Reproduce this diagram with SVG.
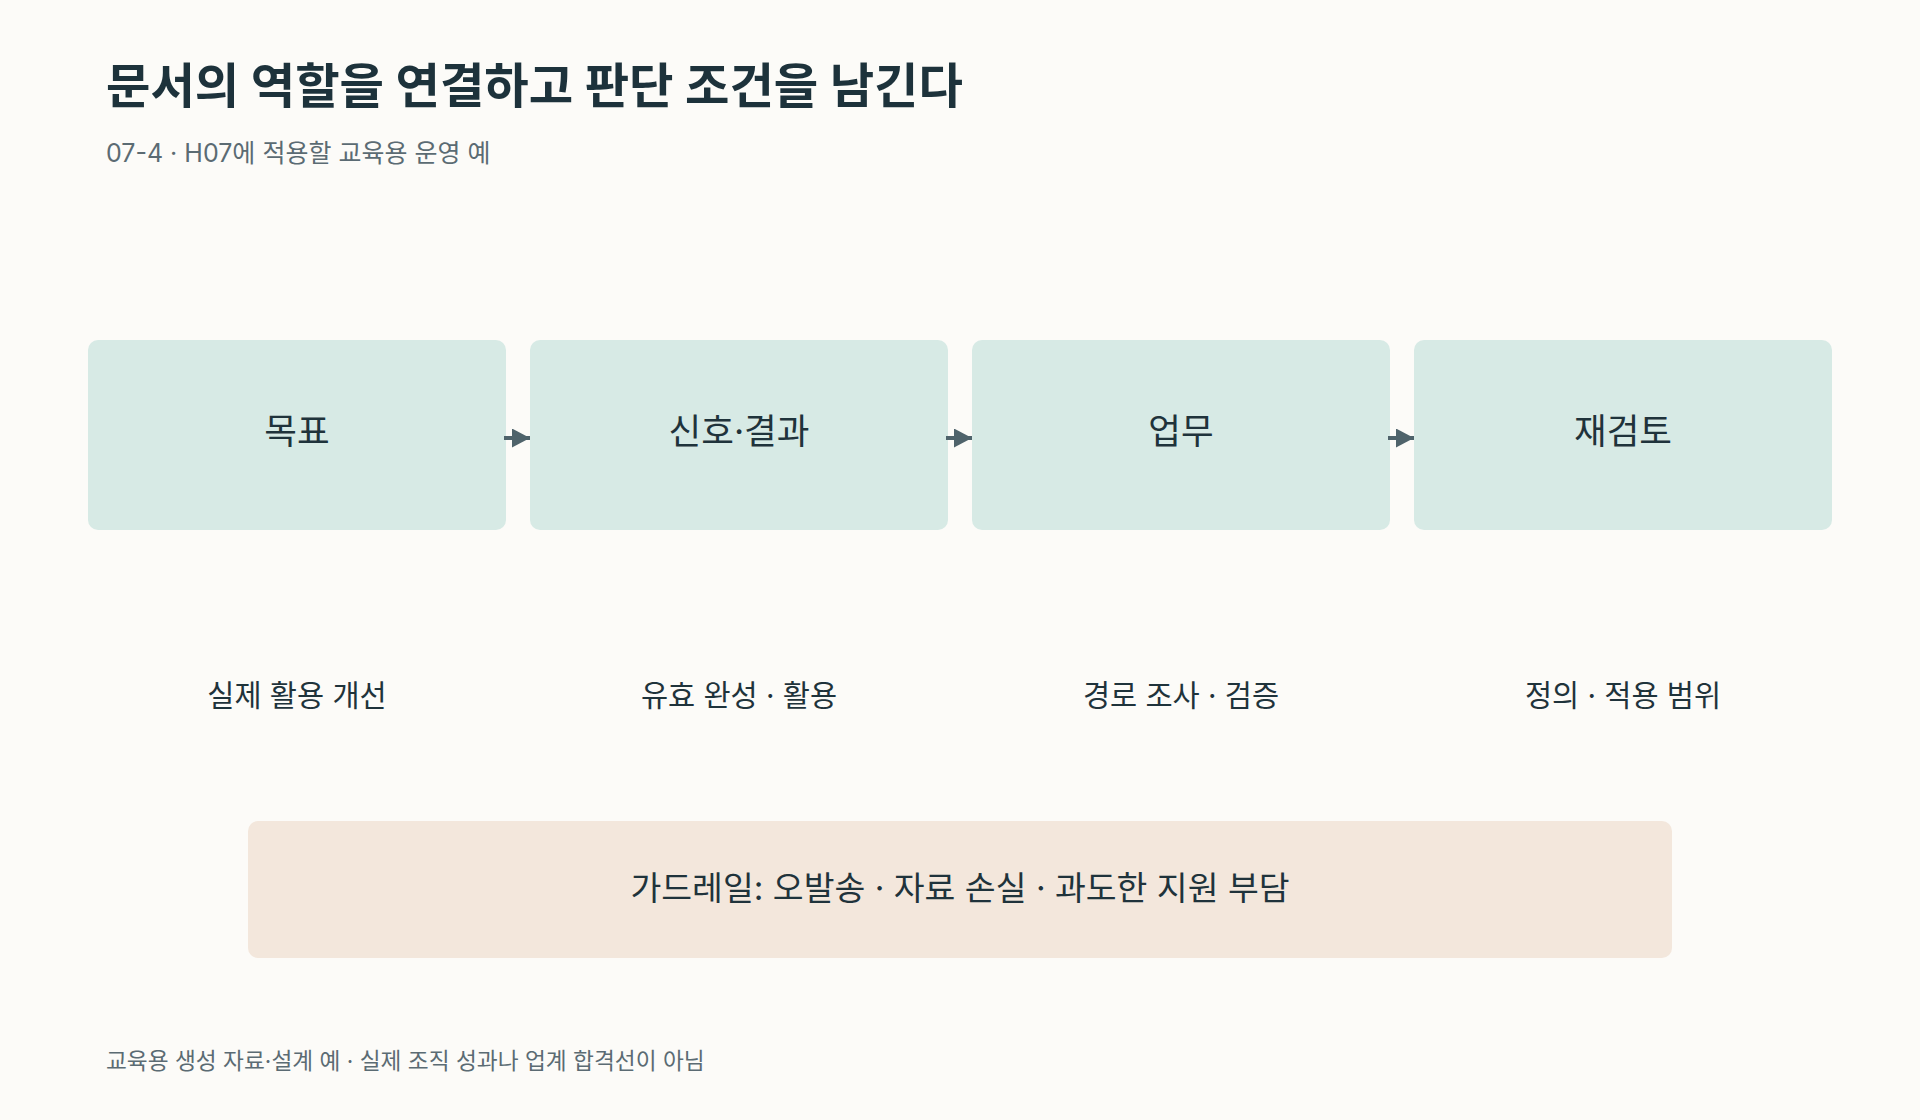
<svg xmlns="http://www.w3.org/2000/svg" width="1920" height="1120" viewBox="0 0 1920 1120">
<style>
text{font-family:Inter,"Noto Sans CJK KR",sans-serif}
.title{font-size:48.3px;font-weight:700;fill:#1d323b}
.sub{font-size:25px;fill:#5b6b73}
.box{fill:#d7eae5}
.lbl{font-size:35.5px;fill:#1f333b;text-anchor:middle}
.gl{font-size:33.5px;fill:#1f333b;text-anchor:middle}
.cap{font-size:29.5px;fill:#1f333b;text-anchor:middle}
.guard{fill:#f3e7dc}
.foot{font-size:22.7px;fill:#5b6b73}
.conn{stroke:#4f636b;stroke-width:4;fill:none}
</style>
<defs>
<marker id="ah" viewBox="0 0 18 19" refX="18" refY="9.5" markerWidth="18" markerHeight="19" orient="auto" markerUnits="userSpaceOnUse">
<path d="M0,0 L18,9.5 L0,19 Z" fill="#4f636b"/>
</marker>
</defs>
<rect width="1920" height="1120" fill="#fcfbf8"/>
<text class="title" x="106" y="103">문서의 역할을 연결하고 판단 조건을 남긴다</text>
<text class="sub" x="106" y="162">07-4 · H07에 적용할 교육용 운영 예</text>
<g id="node-goal">
<rect class="box" x="88" y="340" width="418" height="190" rx="10"/>
<text class="lbl" x="297" y="444">목표</text>
</g>
<g id="node-signal">
<rect class="box" x="530" y="340" width="418" height="190" rx="10"/>
<text class="lbl" x="739" y="444">신호·결과</text>
</g>
<g id="node-work">
<rect class="box" x="972" y="340" width="418" height="190" rx="10"/>
<text class="lbl" x="1181" y="444">업무</text>
</g>
<g id="node-review">
<rect class="box" x="1414" y="340" width="418" height="190" rx="10"/>
<text class="lbl" x="1623" y="444">재검토</text>
</g>
<g id="connectors">
<line class="conn" x1="504" y1="438" x2="530" y2="438" marker-end="url(#ah)"/>
<line class="conn" x1="946" y1="438" x2="972" y2="438" marker-end="url(#ah)"/>
<line class="conn" x1="1388" y1="438" x2="1414" y2="438" marker-end="url(#ah)"/>
</g>
<g id="captions">
<text class="cap" x="297" y="706">실제 활용 개선</text>
<text class="cap" x="739" y="706">유효 완성 · 활용</text>
<text class="cap" x="1181" y="706">경로 조사 · 검증</text>
<text class="cap" x="1623" y="706">정의 · 적용 범위</text>
</g>
<g id="node-guardrail">
<rect class="guard" x="248" y="821" width="1424" height="137" rx="10"/>
<text class="gl" x="960" y="900">가드레일: 오발송 · 자료 손실 · 과도한 지원 부담</text>
</g>
<text class="foot" x="106" y="1069">교육용 생성 자료·설계 예 · 실제 조직 성과나 업계 합격선이 아님</text>
</svg>
